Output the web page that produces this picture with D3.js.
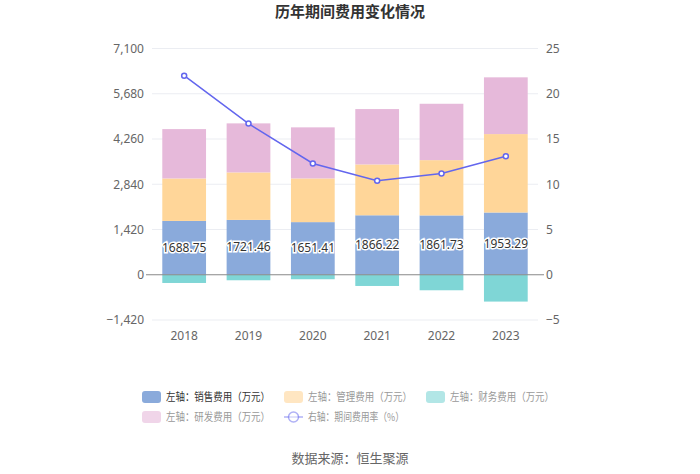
<!DOCTYPE html>
<html><head><meta charset="utf-8">
<script src="https://cdn.jsdelivr.net/npm/d3@7/dist/d3.min.js"></script>
<style>
body{margin:0;background:#fff;}
svg{font-family:"Noto Sans CJK SC","Noto Sans",sans-serif;}
</style></head>
<body>
<svg id="c" width="700" height="474"></svg>
<script>
const years = ["2018","2019","2020","2021","2022","2023"];
const sales = [1688.75,1721.46,1651.41,1866.22,1861.73,1953.29];
const mgmt = [1333,1490,1371,1596,1735,2461];
const finance = [-258,-173,-141,-352,-487,-842];
const rnd = [1549,1539,1603,1737,1769,1781];
const rate = [22.0,16.7,12.3,10.4,11.2,13.1];
const leftTicks = [-1420,0,1420,2840,4260,5680,7100];
const rightTicks = [-5,0,5,10,15,20,25];

const colors = {sales:"#8aaadb", mgmt:"#ffd699", finance:"#7fd6d6", rnd:"#e6b9da", rate:"#6366ee"};

const svg = d3.select("#c");
const x = d3.scaleBand().domain(years).range([152,538]).paddingInner(0.32).paddingOuter(0.16);
const yL = d3.scaleLinear().domain([-1420,7100]).range([320,48.5]);
const yR = d3.scaleLinear().domain([-5,25]).range([320,48.5]);

svg.append("text").attr("x",350).attr("y",17).attr("text-anchor","middle")
  .attr("font-size",15).attr("font-weight","bold").attr("fill","#333").text("历年期间费用变化情况");

const g = svg.append("g");
leftTicks.forEach(t=>{
  if(t!==0) g.append("line").attr("x1",152).attr("x2",538).attr("y1",yL(t)).attr("y2",yL(t)).attr("stroke","#ebedf2").attr("stroke-width",1);
});

const axL = d3.axisLeft(yL).tickValues(leftTicks).tickSize(0).tickPadding(8).tickFormat(d3.format(","));
svg.append("g").attr("transform","translate(152,0)").call(axL)
  .call(s=>{s.select(".domain").remove(); s.selectAll("text").attr("fill","#666").attr("font-size",12).attr("font-family","'Noto Sans',sans-serif");});
const axR = d3.axisRight(yR).tickValues(rightTicks).tickSize(0).tickPadding(8);
svg.append("g").attr("transform","translate(538,0)").call(axR)
  .call(s=>{s.select(".domain").remove(); s.selectAll("text").attr("fill","#666").attr("font-size",12).attr("font-family","'Noto Sans',sans-serif");});
const axX = d3.axisBottom(x).tickSize(0).tickPadding(6);
svg.append("g").attr("transform","translate(0,325)").call(axX)
  .call(s=>{s.select(".domain").remove(); s.selectAll("text").attr("fill","#666").attr("font-size",12).attr("font-family","'Noto Sans',sans-serif");});

const bw = x.bandwidth();
years.forEach((yr,i)=>{
  const xi = x(yr);
  const s0 = 0, s1 = sales[i], m1 = s1+mgmt[i], r1 = m1+rnd[i];
  svg.append("rect").attr("x",xi).attr("width",bw).attr("y",yL(s1)).attr("height",yL(s0)-yL(s1)).attr("fill",colors.sales);
  svg.append("rect").attr("x",xi).attr("width",bw).attr("y",yL(m1)).attr("height",yL(s1)-yL(m1)).attr("fill",colors.mgmt);
  svg.append("rect").attr("x",xi).attr("width",bw).attr("y",yL(r1)).attr("height",yL(m1)-yL(r1)).attr("fill",colors.rnd);
  svg.append("rect").attr("x",xi).attr("width",bw).attr("y",yL(0)).attr("height",yL(finance[i])-yL(0)).attr("fill",colors.finance);
});

svg.append("line").attr("x1",146).attr("x2",544).attr("y1",yL(0)).attr("y2",yL(0)).attr("stroke","#888").attr("stroke-width",1);

years.forEach((yr,i)=>{
  svg.append("text").attr("x",x(yr)+bw/2).attr("y",yL(sales[i]/2)+4).attr("text-anchor","middle")
    .attr("font-size",12).attr("fill","#333").attr("stroke","#fff").attr("stroke-width",3).attr("paint-order","stroke")
    .attr("font-family","'Noto Sans',sans-serif").text(sales[i].toFixed(2));
});

const line = d3.line().x((d,i)=>x(years[i])+bw/2).y(d=>yR(d));
svg.append("path").datum(rate).attr("d",line).attr("fill","none").attr("stroke",colors.rate).attr("stroke-width",1.5);
svg.selectAll("circle.pt").data(rate).enter().append("circle")
  .attr("cx",(d,i)=>x(years[i])+bw/2).attr("cy",d=>yR(d)).attr("r",2.5)
  .attr("fill","#fff").attr("stroke",colors.rate).attr("stroke-width",1.5);

const leg = [
  {t:"左轴：销售费用（万元）",c:colors.sales,x:142,y:397,type:"rect",active:true},
  {t:"左轴：管理费用（万元）",c:colors.mgmt,x:284,y:397,type:"rect"},
  {t:"左轴：财务费用（万元）",c:colors.finance,x:426,y:397,type:"rect"},
  {t:"左轴：研发费用（万元）",c:colors.rnd,x:142,y:417,type:"rect"},
  {t:"右轴：期间费用率（%）",c:colors.rate,x:284,y:417,type:"line"}
];
leg.forEach(l=>{
  if(l.type==="rect"){
    svg.append("rect").attr("x",l.x).attr("y",l.y-6).attr("width",19).attr("height",12).attr("rx",3).attr("fill",l.c).attr("opacity",l.active?1:0.6);
  } else {
    svg.append("line").attr("x1",l.x).attr("x2",l.x+19).attr("y1",l.y).attr("y2",l.y).attr("stroke",l.c).attr("stroke-width",1.5).attr("opacity",0.5);
    svg.append("circle").attr("cx",l.x+9.5).attr("cy",l.y).attr("r",5).attr("fill","#fff").attr("stroke",l.c).attr("stroke-width",1.5).attr("opacity",0.5);
  }
  svg.append("text").attr("x",l.x+24).attr("y",l.y+4).attr("font-size",11)
    .attr("textLength", l.type==="line"?96:104).attr("lengthAdjust","spacingAndGlyphs")
    .attr("fill",l.active?"#333":"#999").text(l.t);
});

svg.append("text").attr("x",350).attr("y",463).attr("text-anchor","middle").attr("font-size",13).attr("fill","#666").text("数据来源：恒生聚源");
</script>
</body></html>
